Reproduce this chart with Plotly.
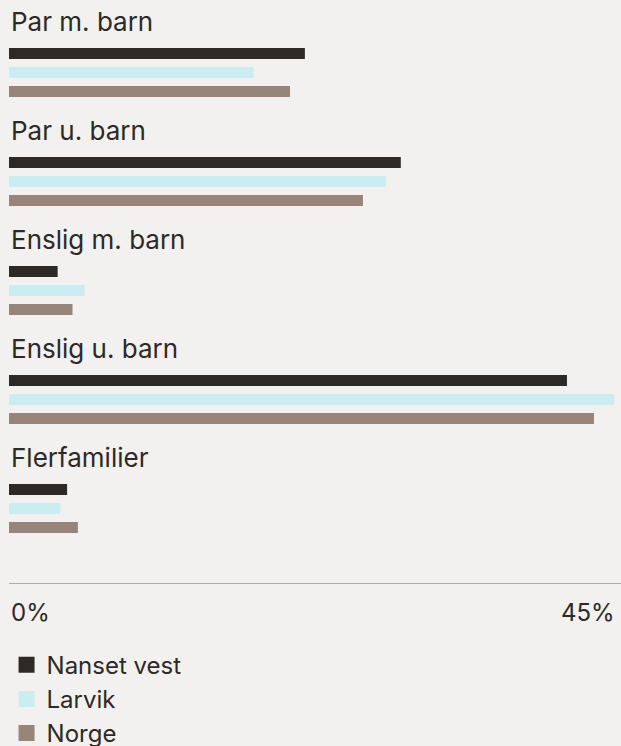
import plotly.graph_objects as go

categories = ["Par m. barn", "Par u. barn", "Enslig m. barn", "Enslig u. barn", "Flerfamilier"]
series_names = ["Nanset vest", "Larvik", "Norge"]
nanset_vest = [21.9, 29.0, 3.6, 41.3, 4.3]
larvik = [18.1, 27.9, 5.6, 44.8, 3.8]
norge = [20.8, 26.2, 4.7, 43.3, 5.1]
x_ticks = [0, 45]
x_tick_labels = ["0%", "45%"]

colors = ["#2d2926", "#c9edf1", "#988579"]
values = [nanset_vest, larvik, norge]

FONT = "Inter"
TEXT = "#2d2926"
BG = "#f2f1ef"

# vertical layout in pixel units (y axis reversed)
GROUP = 109
FIRST_BAR = 53.5
BAR_STEP = 19
LABEL_Y = 21

fig = go.Figure()
for j, (name, vals, col) in enumerate(zip(series_names, values, colors)):
    ys = [FIRST_BAR + GROUP * i + BAR_STEP * j for i in range(len(categories))]
    fig.add_trace(go.Bar(
        x=vals, y=ys, orientation="h", width=11, name=name,
        marker=dict(color=col, line=dict(width=0)),
        hoverinfo="x+name", legendgroup=name, showlegend=False,
    ))
    # legend entry with a larger square swatch
    fig.add_trace(go.Scatter(
        x=[None], y=[None], mode="markers", name=name, legendgroup=name,
        marker=dict(symbol="square", size=16, color=col), showlegend=True,
    ))

for i, cat in enumerate(categories):
    fig.add_annotation(x=0, y=LABEL_Y + GROUP * i, xref="x", yref="y", text=cat,
                       showarrow=False, xanchor="left", yanchor="middle",
                       font=dict(family=FONT, size=26, color=TEXT))

for v, lab in zip(x_ticks, x_tick_labels):
    fig.add_annotation(x=v, y=0, xref="x", yref="paper", text=lab, showarrow=False,
                       xanchor="left" if v == x_ticks[0] else "right", yanchor="top",
                       yshift=-13, font=dict(family=FONT, size=24, color=TEXT))

fig.update_layout(
    width=621, height=746,
    margin=dict(l=9, r=0, t=0, b=163, autoexpand=False),
    paper_bgcolor=BG, plot_bgcolor=BG,
    barmode="overlay",
    showlegend=True,
    legend=dict(orientation="v", x=-0.004, xanchor="left", y=0.1386, yanchor="top",
                xref="paper", yref="container",
                font=dict(family=FONT, size=24, color=TEXT),
                traceorder="normal", tracegroupgap=4, bgcolor="rgba(0,0,0,0)",
                itemwidth=30),
    xaxis=dict(range=[0, 45.3], showgrid=False, zeroline=False, showticklabels=False,
               showline=True, linecolor="#b9aa9f", linewidth=1, fixedrange=True),
    yaxis=dict(range=[583, 0], showgrid=False, zeroline=False, showticklabels=False,
               showline=False, fixedrange=True),
)

fig.write_html("out.html", config={"displayModeBar": False},
               post_script="document.body.style.margin='0';")
